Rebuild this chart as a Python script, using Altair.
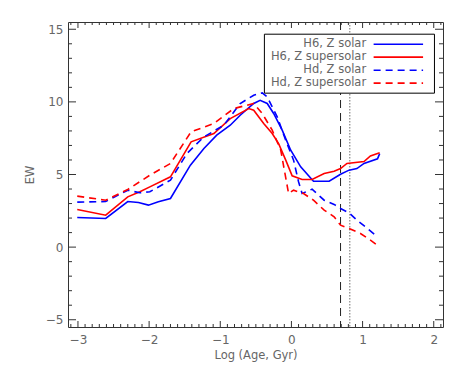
import altair as alt
import pandas as pd
import numpy as np

# ---- data ----
names = ["H6, Z solar", "H6, Z supersolar", "Hd, Z solar", "Hd, Z supersolar"]
colors = ["#0000ff", "#ff0000", "#0000ff", "#ff0000"]
dashed = [False, False, True, True]

h6_solar_x = [-3.01, -2.61, -2.30, -2.15, -2.01, -1.87, -1.70, -1.42, -1.23, -1.05, -0.86, -0.72,
              -0.53, -0.44, -0.34, -0.25, -0.13, -0.01, 0.13, 0.31, 0.53, 0.69, 0.81, 0.92, 1.02,
              1.21, 1.24]
h6_solar_y = [2.04, 1.97, 3.14, 3.07, 2.89, 3.12, 3.35, 5.64, 6.79, 7.71, 8.39, 9.08,
              9.89, 10.11, 9.89, 9.20, 8.05, 6.67, 5.53, 4.54, 4.54, 5.02, 5.30, 5.41, 5.76,
              6.08, 6.44]

h6_super_x = [-3.01, -2.61, -2.30, -2.13, -1.99, -1.70, -1.41, -1.09, -0.86, -0.60, -0.53, -0.39,
              -0.27, -0.18, -0.08, 0.01, 0.15, 0.29, 0.46, 0.60, 0.69, 0.78, 1.02, 1.11, 1.24]
h6_super_y = [2.59, 2.20, 3.46, 3.81, 4.15, 4.84, 7.25, 7.82, 8.85, 9.54, 9.43, 8.51,
              7.82, 7.13, 5.99, 4.91, 4.66, 4.66, 5.07, 5.23, 5.41, 5.76, 5.89, 6.28, 6.49]

hd_solar_x = [-3.01, -2.61, -2.30, -2.13, -1.99, -1.70, -1.47, -1.23, -0.95, -0.72, -0.53, -0.41,
              -0.34, -0.20, -0.08, 0.03, 0.10, 0.15, 0.29, 0.46, 0.60, 0.69, 0.81, 0.92, 1.07, 1.21]
hd_solar_y = [3.10, 3.14, 3.92, 3.74, 3.81, 4.61, 6.44, 7.59, 8.39, 9.89, 10.46, 10.62,
              10.34, 8.97, 7.36, 5.99, 4.50, 3.69, 3.99, 3.23, 2.94, 2.66, 2.36, 1.86, 1.28, 0.71]

hd_super_x = [-3.01, -2.61, -2.30, -1.99, -1.70, -1.41, -1.09, -0.81, -0.53, -0.41, -0.27, -0.15,
              -0.04, 0.03, 0.17, 0.31, 0.46, 0.60, 0.69, 0.81, 0.97, 1.11, 1.24]
hd_super_y = [3.51, 3.23, 3.97, 4.95, 5.76, 7.94, 8.51, 9.54, 9.89, 9.20, 8.05, 6.67,
              3.69, 3.92, 3.69, 3.23, 2.55, 2.09, 1.51, 1.28, 0.94, 0.48, 0.02]

series_x = [h6_solar_x, h6_super_x, hd_solar_x, hd_super_x]
series_y = [h6_solar_y, h6_super_y, hd_solar_y, hd_super_y]

vline_dashed = 0.69
vline_dotted = 0.82

x_major = [-3, -2, -1, 0, 1, 2]
y_major = [-5, 0, 5, 10, 15]

# ---- layout ----
W, H = 375, 305
XDOM = [-3.14, 2.13]
YDOM = [-5.5, 15.5]
TXT = "#666666"
AX = "#333333"
FONT = "DejaVu Sans"

xs = alt.Scale(domain=XDOM, nice=False, zero=False)
ys = alt.Scale(domain=YDOM, nice=False, zero=False)

x_minor = [round(v, 2) for v in np.arange(-3.1, 2.11, 0.1) if abs(v - round(v)) > 1e-6]
y_minor = [v for v in range(-5, 16) if v % 5 != 0]

layers = []

# axes (labels only)
base_axes = alt.Chart(pd.DataFrame({"x": [0.0], "y": [0.0]})).mark_point(opacity=0).encode(
    x=alt.X("x:Q", scale=xs, title="Log (Age, Gyr)",
            axis=alt.Axis(values=x_major, format="d", ticks=False, domain=False, grid=False,
                          labelPadding=7, titlePadding=4)),
    y=alt.Y("y:Q", scale=ys, title="EW",
            axis=alt.Axis(values=y_major, format="d", ticks=False, domain=False, grid=False,
                          labelPadding=5, titlePadding=10)),
)
layers.append(base_axes)

# inward ticks on all four sides
def xticks(vals, length):
    df = pd.DataFrame({"v": vals})
    b = alt.Chart(df).mark_rule(color=AX, strokeWidth=1)
    return [
        b.encode(x=alt.X("v:Q", scale=xs), y=alt.value(H), y2=alt.value(H - length)),
        b.encode(x=alt.X("v:Q", scale=xs), y=alt.value(0), y2=alt.value(length)),
    ]

def yticks(vals, length):
    df = pd.DataFrame({"v": vals})
    b = alt.Chart(df).mark_rule(color=AX, strokeWidth=1)
    return [
        b.encode(y=alt.Y("v:Q", scale=ys), x=alt.value(0), x2=alt.value(length)),
        b.encode(y=alt.Y("v:Q", scale=ys), x=alt.value(W), x2=alt.value(W - length)),
    ]

layers += xticks(x_major, 6) + xticks(x_minor, 3) + yticks(y_major, 8) + yticks(y_minor, 4)

# vertical reference lines
layers.append(alt.Chart(pd.DataFrame({"v": [vline_dashed]})).mark_rule(
    color="#222222", strokeDash=[8, 5], strokeWidth=1).encode(x=alt.X("v:Q", scale=xs)))
layers.append(alt.Chart(pd.DataFrame({"v": [vline_dotted]})).mark_rule(
    color="#888888", strokeDash=[1.5, 1.5], strokeWidth=1.2).encode(x=alt.X("v:Q", scale=xs)))

# data lines
for nm, c, d, sx, sy in zip(names, colors, dashed, series_x, series_y):
    df = pd.DataFrame({"x": sx, "y": sy, "i": range(len(sx))})
    kw = dict(color=c, strokeWidth=1.6, clip=True)
    if d:
        kw["strokeDash"] = [7, 5]
    layers.append(alt.Chart(df).mark_line(**kw).encode(
        x=alt.X("x:Q", scale=xs), y=alt.Y("y:Q", scale=ys), order="i:Q"))

# legend (drawn in data space)
leg_box = pd.DataFrame({"x": [-0.38], "x2": [2.01], "y": [10.6], "y2": [14.66]})
layers.append(alt.Chart(leg_box).mark_rect(fill="white", stroke="black", strokeWidth=1).encode(
    x=alt.X("x:Q", scale=xs), x2="x2", y=alt.Y("y:Q", scale=ys), y2="y2"))
leg_rows_y = [13.97, 13.08, 12.18, 11.29]
for nm, c, d, ry in zip(names, colors, dashed, leg_rows_y):
    tdf = pd.DataFrame({"x": [1.05], "y": [ry], "t": [nm]})
    layers.append(alt.Chart(tdf).mark_text(align="right", baseline="middle", font=FONT,
                                           fontSize=11.5, color=TXT).encode(
        x=alt.X("x:Q", scale=xs), y=alt.Y("y:Q", scale=ys), text="t:N"))
    ldf = pd.DataFrame({"x": [1.155], "x2": [1.85], "y": [ry]})
    kw = dict(color=c, strokeWidth=1.6)
    if d:
        kw["strokeDash"] = [7, 5]
    layers.append(alt.Chart(ldf).mark_rule(**kw).encode(
        x=alt.X("x:Q", scale=xs), x2="x2", y=alt.Y("y:Q", scale=ys)))

chart = alt.layer(*layers).properties(
    width=W, height=H,
    autosize=alt.AutoSizeParams(type="none"),
    padding={"left": 60, "top": 14, "right": 12, "bottom": 36},
    background="white",
).configure_view(stroke=AX, strokeWidth=1).configure_axis(
    labelFont=FONT, titleFont=FONT, labelFontSize=12, titleFontSize=11.5,
    labelColor=TXT, titleColor=TXT, titleFontWeight="normal",
)

chart.save("out.html", embed_options={"renderer": "svg", "actions": False})
